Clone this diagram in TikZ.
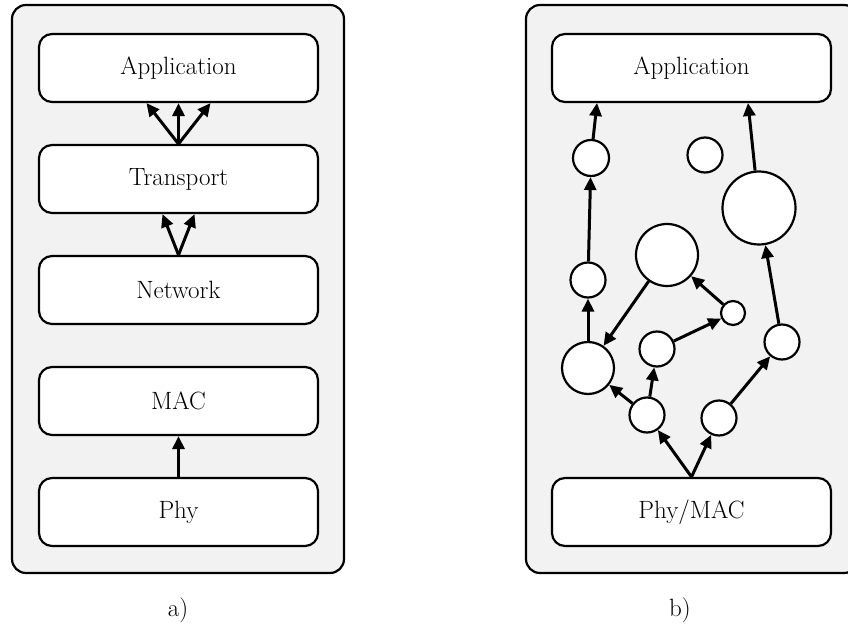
\documentclass[tikz,border=0pt]{standalone}
\usetikzlibrary{arrows.meta,calc}
\definecolor{panelgray}{HTML}{F2F2F2}
\tikzset{
  panel/.style={draw=black, line width=2.2pt, fill=panelgray, rounded corners=14pt},
  layerbox/.style={draw=black, line width=2.2pt, fill=white, rounded corners=13pt,
    minimum width=279pt, minimum height=68pt, inner sep=0pt,
    font=\fontsize{25}{30}\selectfont},
  blob/.style={draw=black, line width=2.2pt, fill=white, circle, inner sep=0pt},
  arr/.style={-{Triangle[length=13pt,width=12pt]}, line width=3pt},
  captext/.style={font=\fontsize{25}{30}\selectfont}
}
\begin{document}
\begin{tikzpicture}[x=1pt,y=-1pt]
\useasboundingbox (0,0) rectangle (848,628);
\clip (0,0) rectangle (848,628);
% panels
\draw[panel] (12,5) rectangle (344,573);
\draw[panel] (526,5) rectangle (858,573);
% left stack
\node[layerbox] (appA) at (178.5,68) {Application};
\node[layerbox] (tra) at (178.5,179) {Transport};
\node[layerbox] (net) at (178.5,290) {Network};
\node[layerbox] (mac) at (178.5,401) {MAC};
\node[layerbox] (phy) at (178.5,512) {Phy};
\coordinate (aL) at ($(appA.south)+(-32,0)$);
\coordinate (aR) at ($(appA.south)+(32,0)$);
\coordinate (tL) at ($(tra.south)+(-16,0)$);
\coordinate (tR) at ($(tra.south)+(16,0)$);
\draw[arr] (tra.north) -- (aL);
\draw[arr] (tra.north) -- (appA.south);
\draw[arr] (tra.north) -- (aR);
\draw[arr] (net.north) -- (tL);
\draw[arr] (net.north) -- (tR);
\draw[arr] (phy.north) -- (mac.south);
% right panel
\node[layerbox] (appB) at (691.5,68) {Application};
\node[layerbox] (pm) at (691.5,512) {Phy/MAC};
\node[blob, minimum size=36pt] (c1) at (591,158) {};
\node[blob, minimum size=35pt] (c2) at (705,155) {};
\node[blob, minimum size=73pt] (bigR) at (759,208) {};
\node[blob, minimum size=62pt] (bigM) at (667,255) {};
\node[blob, minimum size=35pt] (c3) at (588,280) {};
\node[blob, minimum size=52pt] (bigL) at (588,368) {};
\node[blob, minimum size=24pt] (sm) at (733,313) {};
\node[blob, minimum size=35pt] (mid) at (657,349) {};
\node[blob, minimum size=35pt] (rr) at (782,342) {};
\node[blob, minimum size=35pt] (lm) at (647,415) {};
\node[blob, minimum size=35pt] (lr) at (719,418) {};
\coordinate (bL) at (597,103);
\coordinate (bR) at (748,103);
\draw[arr] (pm.north) -- (lm);
\draw[arr] (pm.north) -- (lr);
\draw[arr] (lm) -- (bigL);
\draw[arr] (lm) -- (mid);
\draw[arr] (mid) -- (sm);
\draw[arr] (sm) -- (bigM);
\draw[arr] (bigM) -- (bigL);
\draw[arr] (bigL) -- (c3);
\draw[arr] (c3) -- (c1);
\draw[arr] (c1) -- (bL);
\draw[arr] (lr) -- (rr);
\draw[arr] (rr) -- (bigR);
\draw[arr] (bigR) -- (bR);
% captions
\node[captext] (capA) at (178,610) {a)};
\node[captext] (capB) at (680,610) {b)};
\end{tikzpicture}
\end{document}
